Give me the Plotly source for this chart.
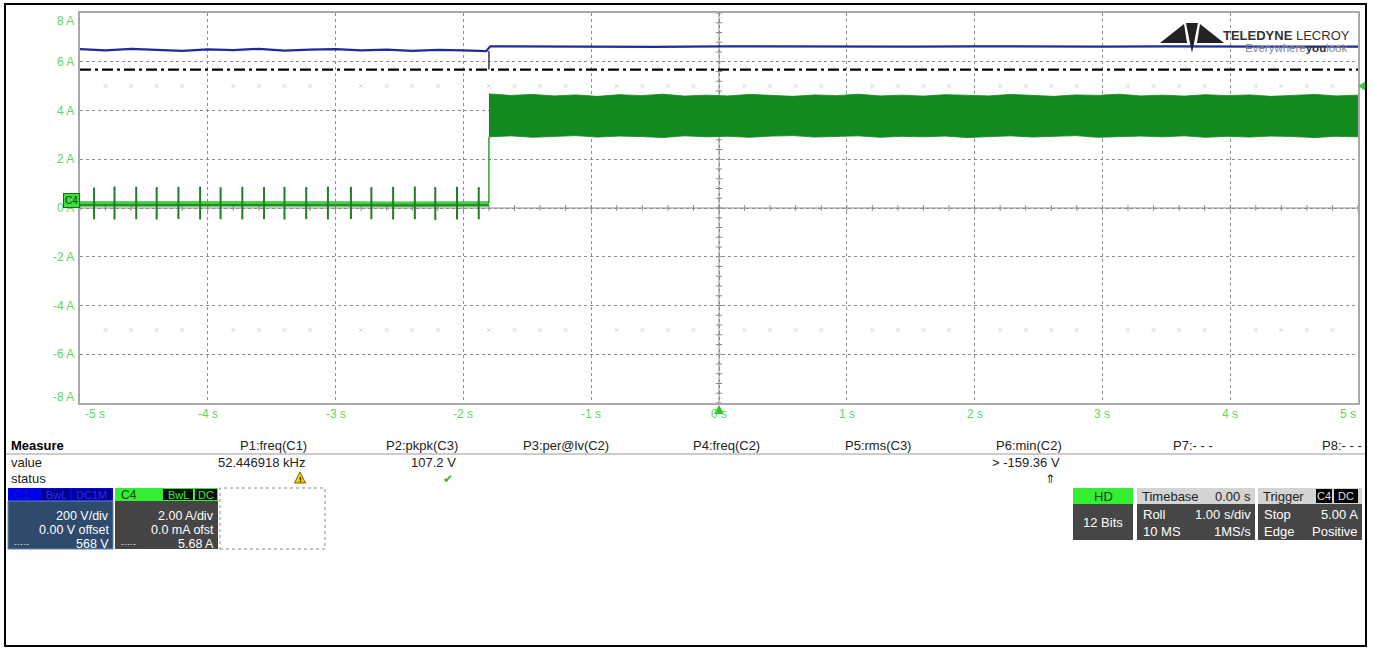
import numpy as np
import plotly.graph_objects as go

# ---------------- data ----------------
x_ticks = [-5, -4, -3, -2, -1, 0, 1, 2, 3, 4, 5]
x_labels = ["-5 s", "-4 s", "-3 s", "-2 s", "-1 s", "0 s", "1 s", "2 s", "3 s", "4 s", "5 s"]
y_ticks = [8, 6, 4, 2, 0, -2, -4, -6, -8]
y_labels = ["8 A", "6 A", "4 A", "2 A", "0 A", "-2 A", "-4 A", "-6 A", "-8 A"]

step_t = -1.80          # time of the load step (s)
cursor_level = 5.68     # horizontal cursor (A)
trigger_level = 5.0     # trigger level (A)

# C1 (blue) trace shown on the A-scale
c1_t = [-5.0, -4.8, -4.6, -4.4, -4.2, -4.0, -3.8, -3.6, -3.4, -3.2, -3.0, -2.8, -2.6,
        -2.4, -2.2, -2.0, -1.82, -1.79, -1.5, -1.0, -0.5, 0.0, 0.5, 1.0, 1.5, 2.0, 2.5,
        3.0, 3.5, 4.0, 4.5, 5.0]
c1_v = [6.52, 6.47, 6.53, 6.49, 6.45, 6.51, 6.48, 6.53, 6.46, 6.50, 6.52, 6.47, 6.50,
        6.45, 6.49, 6.47, 6.44, 6.63, 6.62, 6.63, 6.61, 6.63, 6.62, 6.64, 6.62, 6.63, 6.61,
        6.62, 6.63, 6.62, 6.61, 6.62]

# C4 (green) current: baseline before the step
c4_base_t = [-5.0, -4.5, -4.0, -3.5, -3.0, -2.5, -2.0, -1.80]
c4_base_v = [0.21, 0.22, 0.20, 0.22, 0.21, 0.20, 0.22, 0.21]
# current spikes before the step
spike_t = [-4.89, -4.73, -4.56, -4.40, -4.23, -4.06, -3.90, -3.73, -3.56, -3.40,
           -3.23, -3.06, -2.88, -2.72, -2.55, -2.38, -2.22, -2.05, -1.88]
spike_hi = [0.84, 0.88, 0.87, 0.86, 0.87, 0.88, 0.85, 0.87, 0.86, 0.87,
            0.86, 0.88, 0.87, 0.86, 0.87, 0.88, 0.86, 0.87, 0.86]
spike_lo = [-0.46, -0.47, -0.46, -0.47, -0.45, -0.47, -0.46, -0.47, -0.46, -0.47,
            -0.46, -0.47, -0.45, -0.46, -0.47, -0.46, -0.49, -0.47, -0.46]
# envelope of the noisy current after the step
band_hi = [4.68, 4.62, 4.66, 4.60, 4.64, 4.58, 4.65, 4.61, 4.67, 4.59, 4.63, 4.60, 4.66,
           4.62, 4.58, 4.64, 4.61, 4.67, 4.60, 4.63, 4.59, 4.65, 4.62, 4.60, 4.66, 4.61,
           4.58, 4.64, 4.62, 4.67, 4.60, 4.63, 4.59, 4.65, 4.61, 4.64, 4.58, 4.62, 4.66,
           4.60, 4.63]
band_lo = [2.92, 2.96, 2.90, 2.94, 2.97, 2.91, 2.95, 2.93, 2.89, 2.96, 2.92, 2.94, 2.90,
           2.95, 2.97, 2.91, 2.93, 2.96, 2.90, 2.94, 2.92, 2.95, 2.89, 2.93, 2.96, 2.91,
           2.94, 2.97, 2.90, 2.93, 2.95, 2.92, 2.96, 2.90, 2.94, 2.91, 2.95, 2.93, 2.89,
           2.94, 2.92]

# measurement table
meas_headers = ["P1:freq(C1)", "P2:pkpk(C3)", "P3:per@lv(C2)", "P4:freq(C2)",
                "P5:rms(C3)", "P6:min(C2)", "P7:- - -", "P8:- - -"]
meas_values = ["52.446918 kHz", "107.2 V", "", "", "", "> -159.36 V", "", ""]

# ---------------- layout helpers ----------------
W, H = 1373, 650
L, R, T, B = 80, 1358, 13, 403
FONT = "Liberation Sans, Arial, sans-serif"


def fx(x):
    return (x - L) / (R - L)


def fy(y):
    return (B - y) / (B - T)


shapes = []
annotations = []


def rect(x0, y0, x1, y1, fill, line=None, lw=0, dash=None, layer="above"):
    ln = dict(width=lw, color=line or fill)
    if dash:
        ln["dash"] = dash
    shapes.append(dict(type="rect", xref="paper", yref="paper",
                       x0=fx(x0), x1=fx(x1), y0=fy(y1), y1=fy(y0),
                       fillcolor=fill, line=ln, layer=layer))


def poly(pts, fill, line=None, lw=0):
    path = "M " + " L ".join(f"{fx(a):.5f},{fy(b):.5f}" for a, b in pts) + " Z"
    shapes.append(dict(type="path", xref="paper", yref="paper", path=path,
                       fillcolor=fill, line=dict(width=lw, color=line or fill),
                       layer="above"))


def text(x, y, s, anchor="left", size=13, color="#000", family=FONT, **kw):
    annotations.append(dict(xref="paper", yref="paper", x=fx(x), y=fy(y), text=s,
                            xanchor=anchor, yanchor="middle", showarrow=False,
                            font=dict(family=family, size=size, color=color), **kw))


fig = go.Figure()

# faint marks at +/- 5 A
fm = [v for v in np.round(np.arange(-4.8, 5.0, 0.2), 2) if abs(v - round(v)) > 0.05]
for lvl in (5, -5):
    fig.add_trace(go.Scatter(x=fm, y=[lvl] * len(fm), mode="markers", hoverinfo="skip",
                             marker=dict(symbol="x-thin-open", size=4, color="#d6d6d6",
                                         line=dict(width=1, color="#d6d6d6")),
                             showlegend=False))

# centre axes with minor ticks
cx, cy = [], []
for t in np.arange(-5, 5.001, 0.2):
    cx += [t, t, None]
    cy += [-0.12, 0.12, None]
for v in np.arange(-8, 8.001, 0.4):
    cx += [-0.025, 0.025, None]
    cy += [v, v, None]
cx += [-5, 5, None, 0, 0]
cy += [0, 0, None, -8, 8]
fig.add_trace(go.Scatter(x=cx, y=cy, mode="lines", line=dict(color="#8a8a8a", width=1),
                         hoverinfo="skip", showlegend=False))

# green noisy band after the step
band_t = np.linspace(step_t, 5.0, len(band_hi))
fig.add_trace(go.Scatter(x=band_t, y=band_lo, mode="lines", line=dict(width=0.8, color="#14821f"),
                         hoverinfo="skip", showlegend=False))
fig.add_trace(go.Scatter(x=band_t, y=band_hi, mode="lines", fill="tonexty",
                         fillcolor="#118a20", line=dict(width=0.8, color="#14821f"),
                         hoverinfo="skip", showlegend=False))

# baseline before step
fig.add_trace(go.Scatter(x=c4_base_t, y=[v - 0.05 for v in c4_base_v], mode="lines",
                         line=dict(color="#1e8c1e", width=5), hoverinfo="skip", showlegend=False))
fig.add_trace(go.Scatter(x=c4_base_t, y=c4_base_v, mode="lines",
                         line=dict(color="#3ad43a", width=2.5), hoverinfo="skip", showlegend=False))
# spikes
sx, sy = [], []
for t, hi, lo in zip(spike_t, spike_hi, spike_lo):
    sx += [t, t, None]
    sy += [lo, hi, None]
fig.add_trace(go.Scatter(x=sx, y=sy, mode="lines", line=dict(color="#1f7f1f", width=2),
                         hoverinfo="skip", showlegend=False))
# step edge
fig.add_trace(go.Scatter(x=[step_t, step_t], y=[c4_base_v[-1], band_lo[0]], mode="lines",
                         line=dict(color="#2aa02a", width=1.5), hoverinfo="skip", showlegend=False))

# blue C1
fig.add_trace(go.Scatter(x=c1_t, y=c1_v, mode="lines", line=dict(color="#1f2a9c", width=2.2),
                         hoverinfo="skip", showlegend=False))
# dark marker line at the step from C1 down to cursor
fig.add_trace(go.Scatter(x=[step_t, step_t], y=[c1_v[16], cursor_level], mode="lines",
                         line=dict(color="#3a3a3a", width=1.5), hoverinfo="skip", showlegend=False))
# cursor dash-dot line
fig.add_trace(go.Scatter(x=[-5, 5], y=[cursor_level, cursor_level], mode="lines",
                         line=dict(color="#000", width=2.3, dash="11px,4px,3px,4px"),
                         hoverinfo="skip", showlegend=False))

# ---------------- axis labels ----------------
for v, s in zip(x_ticks, x_labels):
    anchor, shift = "center", 0
    if v == x_ticks[0]:
        anchor, shift = "left", 3
    elif v == x_ticks[-1]:
        anchor, shift = "right", 0
    annotations.append(dict(xref="x", yref="paper", x=v, y=fy(414), text=s, xanchor=anchor,
                            xshift=shift, yanchor="middle", showarrow=False,
                            font=dict(family=FONT, size=12, color="#5cd65c")))
for v, s in zip(y_ticks, y_labels):
    shift = 0
    if v == y_ticks[0]:
        shift = -8
    elif v == y_ticks[-1]:
        shift = 6
    annotations.append(dict(xref="paper", yref="y", x=fx(76), y=v, yshift=shift, text=s,
                            xanchor="right", yanchor="middle", showarrow=False,
                            font=dict(family=FONT, size=12, color="#5cd65c")))

# C4 badge at the channel's zero
annotations.append(dict(xref="paper", yref="y", x=fx(71), y=0.3, text="C4", xanchor="center",
                        yanchor="middle", showarrow=False, bgcolor="#3ee03e",
                        bordercolor="#147014", borderwidth=1, borderpad=1,
                        font=dict(family=FONT, size=10, color="#0b360b")))

# trigger markers
poly([(1358, 86), (1366, 81), (1366, 91)], "#33cc33")
poly([(719, 405), (714, 414), (724, 414)], "#22cc22")

# ---------------- logo ----------------
poly([(1160, 43), (1184, 24), (1187, 43)], "#222")
poly([(1186, 23), (1198, 23), (1192, 53)], "#222")
poly([(1224, 43), (1200, 24), (1197, 43)], "#222")
text(1352, 35, "<b>TELEDYNE</b> LECROY", anchor="right", size=13, color="#333",
     family="Liberation Sans, Arial")
text(1350, 48, "Everywhere<span style='color:#333'><b>you</b></span>look", anchor="right",
     size=11.5, color="#888", family="Liberation Sans, Arial")

# ---------------- measurement table ----------------
text(9, 445, "<b>Measure</b>", size=13)
col_right = [309, 460, 611, 762, 913, 1064, 1215, 1364]
for xr, h, v in zip(col_right, meas_headers, meas_values):
    text(xr, 445, h, anchor="right", size=13, color="#222")
    if v:
        text(xr - 2, 463, v, anchor="right", size=13, color="#222")
shapes.append(dict(type="line", xref="paper", yref="paper", x0=fx(5), x1=fx(1366),
                   y0=fy(454), y1=fy(454), line=dict(color="#999", width=1)))
text(9, 463, "value", size=13, color="#222")
text(9, 478, "status", size=13, color="#222")
# status icons
poly([(300, 472), (294.5, 483), (305.5, 483)], "#f2d000", line="#7a6000", lw=1)
text(300, 479, "<b>!</b>", anchor="center", size=8, color="#000")
text(448, 479, "✔", anchor="center", size=12, color="#2fb52f",
     family="DejaVu Sans")
text(1050, 479, "⇑", anchor="center", size=12, color="#111", family="DejaVu Sans")

# ---------------- channel boxes ----------------
# C1
rect(8, 488, 113, 501, "#0000ee")
rect(8, 501, 113, 549, "#2e4b6d", line="#5d86b0", lw=1)
text(12, 494.5, "C1", size=12, color="#1818b8")
rect(42, 489, 70, 500, "#00008a")
text(56, 494.5, "BwL", anchor="center", size=11, color="#2a2aff")
rect(72, 489, 111, 500, "#00008a")
text(91.5, 494.5, "DC1M", anchor="center", size=11, color="#2a2aff")
text(111, 516, "200 V/div", anchor="right", size=12.5, color="#fff")
text(111, 530, "0.00 V offset", anchor="right", size=12.5, color="#fff")
text(12, 544, "-·-·-", size=9, color="#ddd")
text(111, 544, "568 V", anchor="right", size=12.5, color="#fff")
# C4
rect(115, 488, 218, 501, "#33ee33")
rect(115, 501, 218, 549, "#454545")
text(119, 494.5, "C4", size=12, color="#1a3a1a")
rect(163, 489, 193, 500, "#0a0a0a")
text(178, 494.5, "BwL", anchor="center", size=11, color="#33ee33")
rect(195, 489, 217, 500, "#0a0a0a")
text(206, 494.5, "DC", anchor="center", size=11, color="#33ee33")
text(216, 516, "2.00 A/div", anchor="right", size=12.5, color="#fff")
text(216, 530, "0.0 mA ofst", anchor="right", size=12.5, color="#fff")
text(119, 544, "-·-·-", size=9, color="#ddd")
text(216, 544, "5.68 A", anchor="right", size=12.5, color="#fff")
# empty dashed slot
rect(220, 488, 325, 549, "rgba(0,0,0,0)", line="#888", lw=1, dash="dot")

# ---------------- right status panel ----------------
rect(1073, 488, 1133, 504, "#33ee33")
rect(1073, 504, 1133, 540, "#464646")
text(1103, 496, "HD", anchor="center", size=13, color="#153515")
text(1103, 522, "12 Bits", anchor="center", size=13, color="#fff")

rect(1137, 488, 1255, 504, "#d4d4d4")
rect(1137, 504, 1255, 540, "#464646")
text(1140, 496, "Timebase", size=13, color="#222")
text(1253, 496, "0.00 s", anchor="right", size=13, color="#222")
text(1141, 514, "Roll", size=13, color="#fff")
text(1253, 514, "1.00 s/div", anchor="right", size=13, color="#fff")
text(1141, 531, "10 MS", size=13, color="#fff")
text(1253, 531, "1MS/s", anchor="right", size=13, color="#fff")

rect(1258, 488, 1362, 504, "#d4d4d4")
rect(1258, 504, 1362, 540, "#464646")
text(1261, 496, "Trigger", size=13, color="#222")
rect(1316, 489, 1332, 503, "#000")
text(1324, 496, "C4", anchor="center", size=11, color="#ddd")
rect(1334, 489, 1358, 503, "#000")
text(1346, 496, "DC", anchor="center", size=11, color="#ddd")
text(1262, 514, "Stop", size=13, color="#fff")
text(1360, 514, "5.00 A", anchor="right", size=13, color="#fff")
text(1262, 531, "Edge", size=13, color="#fff")
text(1360, 531, "Positive", anchor="right", size=13, color="#fff")

# outer frame
rect(5, 4, 1366, 646, "rgba(0,0,0,0)", line="#000", lw=2)

fig.update_layout(
    width=W, height=H, autosize=False,
    margin=dict(l=L, r=W - R, t=T, b=H - B, pad=0),
    paper_bgcolor="#fff", plot_bgcolor="#fff",
    showlegend=False,
    shapes=shapes, annotations=annotations,
    xaxis=dict(range=[-5, 5], dtick=1, tick0=0, showgrid=True, gridcolor="#8c8c8c",
               griddash="dot", gridwidth=1, zeroline=False, showticklabels=False,
               showline=True, mirror=True, linecolor="#a8a8a8", linewidth=2, ticks="",
               fixedrange=True),
    yaxis=dict(range=[-8, 8], dtick=2, tick0=0, showgrid=True, gridcolor="#8c8c8c",
               griddash="dot", gridwidth=1, zeroline=False, showticklabels=False,
               showline=True, mirror=True, linecolor="#a8a8a8", linewidth=2, ticks="",
               fixedrange=True),
)

fig.write_html("out.html", config={"displayModeBar": False},
               post_script="document.body.style.margin='0';document.body.style.overflow='hidden';")
